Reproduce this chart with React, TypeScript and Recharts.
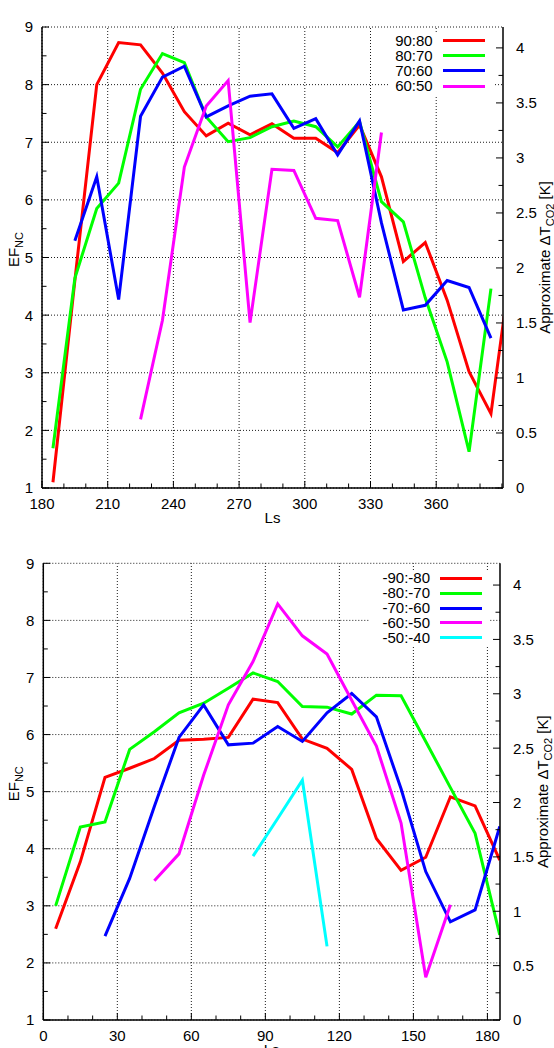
import React from 'react';
import { LineChart, Line, XAxis, YAxis, ReferenceLine, Legend } from 'recharts';

const FONT = "'Liberation Sans', Arial, Helvetica, sans-serif";

// ---------- North data ----------
const northLs = [185, 195, 205, 215, 225, 235, 245, 255, 265, 275, 285, 295, 305, 315, 325, 335, 345, 355, 365, 375, 385, 395];
const north90_80 = [1.1, 4.6, 8.0, 8.73, 8.69, 8.2, 7.53, 7.11, 7.33, 7.13, 7.32, 7.07, 7.07, 6.82, 7.3, 6.4, 4.93, 5.26, 4.26, 3.02, 2.29, 5.1];
const north80_70 = [1.69, 4.64, 5.85, 6.29, 7.92, 8.54, 8.38, 7.44, 7.01, 7.08, 7.27, 7.37, 7.27, 6.92, 7.36, 5.97, 5.62, 4.3, 3.19, 1.63, 4.46, null];
const north70_60 = [null, 5.29, 6.4, 4.27, 7.45, 8.13, 8.32, 7.44, 7.63, 7.8, 7.84, 7.24, 7.41, 6.78, 7.37, 5.6, 4.09, 4.17, 4.6, 4.48, 3.6, null];
const north60_50 = [null, null, null, null, 2.19, 3.91, 6.57, 7.63, 8.07, 3.87, 6.53, 6.51, 5.68, 5.64, 4.31, 7.17, null, null, null, null, null, null];
const northNames = ['90:80', '80:70', '70:60', '60:50'];

// ---------- South data ----------
const southLs = [5, 15, 25, 35, 45, 55, 65, 75, 85, 95, 105, 115, 125, 135, 145, 155, 165, 175, 185];
const south90_80 = [2.6, 3.77, 5.25, 5.41, 5.58, 5.9, 5.92, 5.95, 6.62, 6.56, 5.92, 5.76, 5.39, 4.18, 3.62, 3.85, 4.91, 4.75, 3.8];
const south80_70 = [3.0, 4.38, 4.47, 5.74, 6.05, 6.38, 6.55, 6.81, 7.08, 6.93, 6.49, 6.48, 6.36, 6.69, 6.68, 5.88, 5.07, 4.27, 2.49];
const south70_60 = [null, null, 2.47, 3.48, 4.74, 5.95, 6.52, 5.82, 5.85, 6.14, 5.88, 6.38, 6.72, 6.31, 5.05, 3.6, 2.72, 2.93, 4.39];
const south60_50 = [null, null, null, null, 3.44, 3.91, 5.29, 6.52, 7.28, 8.29, 7.73, 7.41, 6.6, 5.8, 4.45, 1.75, 3.02, null, null];
const south50_40 = [null, null, null, null, null, null, null, null, 3.87, 4.53, 5.2, 2.29, null, null, null, null, null, null, null];
const southNames = ['-90:-80', '-80:-70', '-70:-60', '-60:-50', '-50:-40'];

const seriesColors = ['#ff0000', '#00ff00', '#0000ff', '#ff00ff', '#00ffff'];

// ---------- Ticks ----------
const northXTicks = [180, 190, 200, 210, 220, 230, 240, 250, 260, 270, 280, 290, 300, 310, 320, 330, 340, 350, 360, 370, 380, 390];
const northXLabels = [180, 210, 240, 270, 300, 330, 360];
const northXDomain = [180, 390.5];
const southXTicks = [0, 10, 20, 30, 40, 50, 60, 70, 80, 90, 100, 110, 120, 130, 140, 150, 160, 170, 180];
const southXLabels = [0, 30, 60, 90, 120, 150, 180];
const southXDomain = [0, 185.1];
const leftYTicks = [1, 1.5, 2, 2.5, 3, 3.5, 4, 4.5, 5, 5.5, 6, 6.5, 7, 7.5, 8, 8.5, 9];
const leftYLabels = [1, 2, 3, 4, 5, 6, 7, 8, 9];
const leftYDomain = [1, 9];
const rightYTicks = [0, 0.25, 0.5, 0.75, 1, 1.25, 1.5, 1.75, 2, 2.25, 2.5, 2.75, 3, 3.25, 3.5, 3.75, 4];
const rightYLabels = [0, 0.5, 1, 1.5, 2, 2.5, 3, 3.5, 4];
const northRightDomain = [0, 4.19];
const southRightDomain = [0, 4.2];

function buildRows(ls: number[], series: (number | null)[][]) {
  return ls.map((x, i) => {
    const row: Record<string, number | null> = { ls: x };
    series.forEach((s, k) => {
      row['s' + k] = s[i];
    });
    return row;
  });
}

const northRows = buildRows(northLs, [north90_80, north80_70, north70_60, north60_50]);
const southRows = buildRows(southLs, [south90_80, south80_70, south70_60, south60_50, south50_40]);

const TICK_MAJOR = 7;
const TICK_MINOR = 4.5;

type Side = 'bottom' | 'top' | 'left' | 'right';

function makeTick(side: Side, labels: number[] | null, labelOffset: number) {
  return function TickMark(props: any) {
    const x = Number(props.x);
    const y = Number(props.y);
    const v = props.payload ? props.payload.value : 0;
    const major = labels ? labels.some((l) => Math.abs(l - v) < 1e-9) : false;
    const len = major ? TICK_MAJOR : TICK_MINOR;
    let x2 = x;
    let y2 = y;
    if (side === 'bottom') y2 = y - len;
    if (side === 'top') y2 = y + len;
    if (side === 'left') x2 = x + len;
    if (side === 'right') x2 = x - len;
    let text: React.ReactNode = null;
    if (major && side !== 'top') {
      const common = { fontFamily: FONT, fontSize: 15, fill: '#000' };
      if (side === 'bottom') {
        text = (
          <text x={x} y={y + labelOffset} textAnchor="middle" {...common}>
            {String(v)}
          </text>
        );
      } else if (side === 'left') {
        text = (
          <text x={x - labelOffset} y={y} dy="0.36em" textAnchor="end" {...common}>
            {String(v)}
          </text>
        );
      } else {
        text = (
          <text x={x + labelOffset} y={y} dy="0.36em" textAnchor="start" {...common}>
            {String(v)}
          </text>
        );
      }
    }
    return (
      <g>
        <line x1={x} y1={y} x2={x2} y2={y2} stroke="#000" strokeWidth={1} />
        {text}
      </g>
    );
  };
}

type LegendCfg = { names: string[]; w: number; h: number; firstRow: number; rowGap: number; textRight: number; lineX1: number; lineX2: number };

function makeLegend(cfg: LegendCfg) {
  return function LegendBox(props: any) {
    const items: any[] = (props.payload || []).slice();
    items.sort((a, b) => cfg.names.indexOf(a.value) - cfg.names.indexOf(b.value));
    return (
      <div style={{ position: 'relative', width: cfg.w, height: cfg.h, background: '#fff', fontFamily: FONT, fontSize: 15, color: '#000' }}>
        {items.map((it, i) => {
          const cy = cfg.firstRow + i * cfg.rowGap;
          return (
            <React.Fragment key={it.value}>
              <div style={{ position: 'absolute', right: cfg.w - cfg.textRight, top: cy - 7, height: 14, lineHeight: '14px', whiteSpace: 'nowrap' }}>{it.value}</div>
              <div style={{ position: 'absolute', left: cfg.lineX1, width: cfg.lineX2 - cfg.lineX1, top: cy - 1.5, height: 3, background: it.color }} />
            </React.Fragment>
          );
        })}
      </div>
    );
  };
}

function efLabel(p: any) {
  const vb = p.viewBox || { x: 0, y: 0, width: 0, height: 0 };
  const cy = vb.y + vb.height / 2;
  return (
    <text transform={`translate(19, ${cy + 9.6}) rotate(-90)`} textAnchor="start" fontFamily={FONT} fontSize={15} fill="#000">
      EF<tspan fontSize={11} dy={4}>NC</tspan>
    </text>
  );
}

function makeDtLabel(baseX: number) {
  return function dtLabel(p: any) {
    const vb = p.viewBox || { x: 0, y: 0, width: 0, height: 0 };
    const cy = vb.y + vb.height / 2;
    return (
      <text transform={`translate(${baseX}, ${cy}) rotate(-90)`} textAnchor="middle" fontFamily={FONT} fontSize={15} fill="#000">
        Approximate ΔT<tspan fontSize={11} dy={4}>CO2</tspan>
        <tspan dy={-4}> [K]</tspan>
      </text>
    );
  };
}

function lsLabel(p: any) {
  const vb = p.viewBox || { x: 0, y: 0, width: 0, height: 0 };
  return (
    <text x={vb.x + vb.width / 2} y={vb.y + 35} textAnchor="middle" fontFamily={FONT} fontSize={15} fill="#000">
      Ls
    </text>
  );
}

function makeTitle(title: string, baseY: number) {
  return function TitleLabel(p: any) {
    const vb = p.viewBox || { x: 0, y: 0, width: 0, height: 0 };
    return (
      <text x={vb.x + vb.width / 2 - 0.8} y={baseY} textAnchor="middle" fontFamily={FONT} fontSize={20} fill="#000">
        {title}
      </text>
    );
  };
}

const gridStyle = { stroke: '#000', strokeWidth: 0.9, strokeDasharray: '1 2' };

type PanelProps = {
  rows: any[];
  names: string[];
  height: number;
  margin: { top: number; right: number; bottom: number; left: number };
  xTicks: number[];
  xLabels: number[];
  xDomain: number[];
  rightDomain: number[];
  leftWidth: number;
  rightWidth: number;
  xHeight: number;
  title: string;
  titleY: number;
  dtX: number;
  legend: LegendCfg;
  legendPos: { left: number; top: number };
};

function Panel(props: PanelProps) {
  const p = props;
  return (
    <LineChart width={554} height={p.height} data={p.rows} margin={p.margin}>
      <XAxis
        xAxisId="b"
        dataKey="ls"
        type="number"
        domain={p.xDomain}
        allowDataOverflow
        ticks={p.xTicks}
        interval={0}
        tickSize={0}
        tickMargin={0}
        tickLine={false}
        height={p.xHeight}
        axisLine={{ stroke: '#000', strokeWidth: 1.5 }}
        tick={makeTick('bottom', p.xLabels, 21)}
        label={{ content: lsLabel }}
      />
      <XAxis
        xAxisId="t"
        orientation="top"
        dataKey="ls"
        type="number"
        domain={p.xDomain}
        allowDataOverflow
        ticks={p.xTicks}
        interval={0}
        tickSize={0}
        tickMargin={0}
        tickLine={false}
        height={0}
        axisLine={{ stroke: '#000', strokeWidth: 1.5 }}
        tick={makeTick('top', p.xLabels, 0)}
        label={{ content: makeTitle(p.title, p.titleY) }}
      />
      <YAxis
        yAxisId="left"
        type="number"
        domain={leftYDomain}
        allowDataOverflow
        ticks={leftYTicks}
        interval={0}
        tickSize={0}
        tickMargin={0}
        tickLine={false}
        width={p.leftWidth}
        axisLine={{ stroke: '#000', strokeWidth: 1.5 }}
        tick={makeTick('left', leftYLabels, 9)}
        label={{ content: efLabel }}
      />
      <YAxis
        yAxisId="right"
        orientation="right"
        type="number"
        domain={p.rightDomain}
        allowDataOverflow
        ticks={rightYTicks}
        interval={0}
        tickSize={0}
        tickMargin={0}
        tickLine={false}
        width={p.rightWidth}
        axisLine={{ stroke: '#000', strokeWidth: 1.5 }}
        tick={makeTick('right', rightYLabels, 13)}
        label={{ content: makeDtLabel(p.dtX) }}
      />
      {p.xLabels.map((v) => (
        <ReferenceLine key={'gx' + v} xAxisId="b" yAxisId="left" x={v} {...gridStyle} />
      ))}
      {leftYLabels.map((v) => (
        <ReferenceLine key={'gy' + v} xAxisId="b" yAxisId="left" y={v} {...gridStyle} />
      ))}
      {p.names.map((name, k) => (
        <Line
          key={name}
          xAxisId="b"
          yAxisId="left"
          type="linear"
          dataKey={'s' + k}
          name={name}
          stroke={seriesColors[k]}
          strokeWidth={3}
          dot={false}
          activeDot={false}
          isAnimationActive={false}
          connectNulls={false}
        />
      ))}
      <Legend
        layout="vertical"
        align="center"
        verticalAlign="middle"
        content={makeLegend(p.legend)}
        wrapperStyle={{ left: p.legendPos.left, top: p.legendPos.top, width: p.legend.w, height: p.legend.h }}
      />
    </LineChart>
  );
}

export default function App() {
  return (
    <div style={{ position: 'absolute', left: 0, top: 0, width: 554, height: 1048, background: '#fff', overflow: 'hidden' }}>
      <div style={{ position: 'absolute', left: 0, top: 0 }}>
        <Panel
          rows={northRows}
          names={northNames}
          height={530}
          margin={{ top: 27, right: 0, bottom: 0, left: 0 }}
          xTicks={northXTicks}
          xLabels={northXLabels}
          xDomain={northXDomain}
          rightDomain={northRightDomain}
          leftWidth={42}
          rightWidth={51}
          xHeight={42}
          title="North"
          titleY={18.3}
          dtX={550}
          legend={{ names: northNames, w: 103, h: 61, firstRow: 6.7, rowGap: 15.1, textRight: 42.7, lineX1: 52.7, lineX2: 95 }}
          legendPos={{ left: 390, top: 34 }}
        />
      </div>
      <div style={{ position: 'absolute', left: 0, top: 530 }}>
        <Panel
          rows={southRows}
          names={southNames}
          height={518}
          margin={{ top: 33.3, right: 0, bottom: 0, left: 0 }}
          xTicks={southXTicks}
          xLabels={southXLabels}
          xDomain={southXDomain}
          rightDomain={southRightDomain}
          leftWidth={43.3}
          rightWidth={54}
          xHeight={28}
          title="South"
          titleY={26.7}
          dtX={547.5}
          legend={{ names: southNames, w: 120, h: 75, firstRow: 8.3, rowGap: 14.85, textRight: 60, lineX1: 70, lineX2: 112.3 }}
          legendPos={{ left: 370, top: 40 }}
        />
      </div>
    </div>
  );
}
